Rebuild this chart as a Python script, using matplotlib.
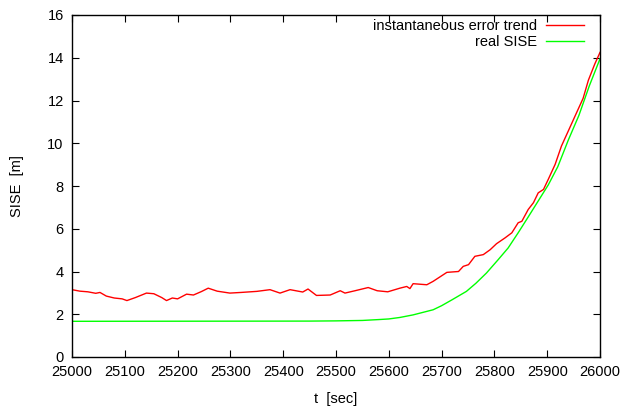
import matplotlib.pyplot as plt

plt.rcParams['font.family'] = ['Liberation Sans', 'DejaVu Sans']

# --- podatki, odčitani s slike ---
t_trend = [25000, 25015, 25030, 25045, 25053, 25065, 25080, 25095, 25104, 25120,
           25141, 25155, 25170, 25179, 25190, 25200, 25217, 25230, 25245, 25258,
           25275, 25299, 25320, 25350, 25375, 25394, 25413, 25437, 25447, 25463,
           25489, 25508, 25517, 25536, 25561, 25578, 25598, 25621, 25634, 25640,
           25646, 25672, 25684, 25710, 25732, 25741, 25751, 25763, 25779, 25792,
           25804, 25820, 25833, 25845, 25852, 25864, 25874, 25883, 25893, 25902,
           25915, 25927, 25943, 25956, 25968, 25978, 25990, 26000]
sise_trend = [3.15, 3.08, 3.05, 2.98, 3.02, 2.85, 2.76, 2.72, 2.64, 2.78,
              2.99, 2.96, 2.78, 2.64, 2.76, 2.72, 2.94, 2.90, 3.06, 3.22,
              3.08, 2.99, 3.02, 3.07, 3.15, 2.99, 3.15, 3.04, 3.18, 2.88,
              2.90, 3.10, 2.99, 3.10, 3.25, 3.10, 3.05, 3.22, 3.30, 3.20,
              3.43, 3.38, 3.54, 3.96, 4.00, 4.24, 4.32, 4.71, 4.79, 5.02,
              5.30, 5.57, 5.81, 6.28, 6.35, 6.90, 7.22, 7.68, 7.84, 8.31,
              9.01, 9.87, 10.74, 11.45, 12.10, 12.95, 13.70, 14.25]

t_real = [25000, 25450, 25500, 25550, 25580, 25600, 25621, 25646, 25684, 25700,
          25720, 25747, 25765, 25785, 25807, 25826, 25845, 25864, 25883, 25902,
          25920, 25940, 25960, 25980, 26000]
sise_real = [1.67, 1.68, 1.69, 1.71, 1.75, 1.78, 1.85, 1.97, 2.21, 2.40,
             2.68, 3.07, 3.45, 3.93, 4.55, 5.10, 5.81, 6.55, 7.30, 8.05,
             8.90, 10.15, 11.30, 12.70, 13.95]

x_ticks = list(range(25000, 26001, 100))
y_ticks = list(range(0, 17, 2))

# --- graf ---
fig = plt.figure(figsize=(6.34, 4.08), dpi=100)
ax = fig.add_axes([72 / 634, 1 - 357 / 408, 528 / 634, 342 / 408])

ax.plot(t_trend, sise_trend, color='#ff0000', lw=1.0, label='instantaneous error trend')
ax.plot(t_real, sise_real, color='#00ff00', lw=1.0, label='real SISE')

ax.set_xlim(25000, 26000)
ax.set_ylim(0, 16)
ax.set_xticks(x_ticks)
ax.set_yticks(y_ticks)
ax.tick_params(direction='in', length=5, width=0.8, top=True, right=True,
               labelsize=10.5, pad=6)
for s in ax.spines.values():
    s.set_linewidth(1.0)

ax.set_xlabel('t  [sec]', fontsize=10.5, labelpad=9)
ax.set_ylabel('SISE  [m]', fontsize=10.5, labelpad=17)

ax.legend(loc='upper right', frameon=False, markerfirst=False, fontsize=10.5,
          handlelength=2.6, handletextpad=0.65, labelspacing=0.14,
          borderpad=0, borderaxespad=0, bbox_to_anchor=(0.970, 0.9886))

fig.savefig('out.png', dpi=100)
